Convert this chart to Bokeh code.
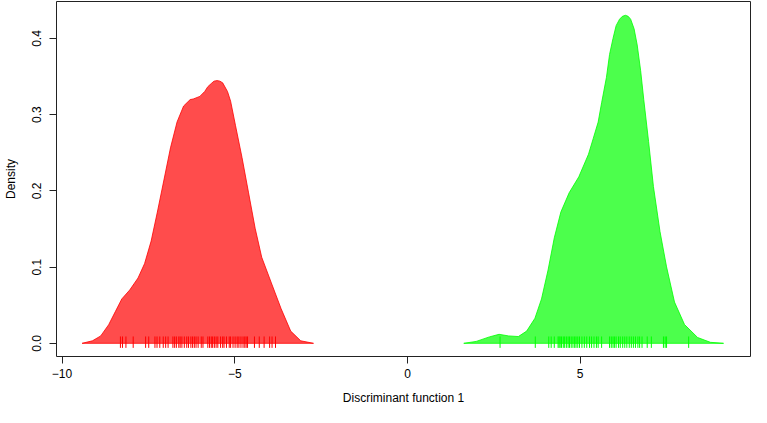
from bokeh.plotting import figure
from bokeh.models import Range1d, FixedTicker
from bokeh.embed import file_html
from bokeh.resources import INLINE

# ---- data ----
red_x = [-9.42, -9.12, -8.88, -8.65, -8.46, -8.27, -8.04, -7.80, -7.61, -7.42,
         -7.24, -7.05, -6.86, -6.67, -6.48, -6.29, -6.20, -6.01, -5.87, -5.78,
         -5.68, -5.60, -5.51, -5.43, -5.35, -5.21, -5.12, -4.98, -4.79, -4.60,
         -4.41, -4.22, -3.94, -3.66, -3.38, -3.09, -2.72]
red_y = [0.000, 0.0033, 0.0097, 0.0244, 0.0413, 0.0582, 0.0700, 0.0857, 0.1046, 0.1342,
         0.1722, 0.2143, 0.2565, 0.2904, 0.3114, 0.3198, 0.3206, 0.3240, 0.3304, 0.3367,
         0.3409, 0.3440, 0.3447, 0.3440, 0.3418, 0.3304, 0.3177, 0.2861, 0.2438, 0.1974,
         0.1510, 0.1130, 0.0792, 0.0456, 0.0160, 0.0033, 0.000]

green_x = [1.63, 1.99, 2.37, 2.65, 2.93, 3.21, 3.45, 3.69, 3.88, 4.07,
           4.25, 4.44, 4.68, 4.96, 5.24, 5.38, 5.52, 5.62, 5.76, 5.85,
           5.95, 6.04, 6.14, 6.22, 6.31, 6.39, 6.46, 6.56, 6.65, 6.75,
           6.84, 6.98, 7.12, 7.31, 7.50, 7.73, 8.02, 8.40, 8.77, 9.15]
green_y = [0.000, 0.0025, 0.0084, 0.0118, 0.0097, 0.0089, 0.0160, 0.0329, 0.0582, 0.0962,
           0.1384, 0.1722, 0.1975, 0.2185, 0.2481, 0.2691, 0.2903, 0.3156, 0.3490, 0.3790,
           0.4000, 0.4168, 0.4253, 0.4290, 0.4304, 0.4290, 0.4253, 0.4127, 0.3915, 0.3577,
           0.3198, 0.2648, 0.2057, 0.1467, 0.1003, 0.0541, 0.0246, 0.0076, 0.0013, 0.000]

red_rug = [-8.31, -8.25, -8.15, -7.94, -7.58, -7.49, -7.31, -7.25, -7.17, -7.07,
           -7.00, -6.93, -6.79, -6.74, -6.69, -6.62, -6.58, -6.53, -6.46, -6.39,
           -6.34, -6.27, -6.22, -6.17, -6.12, -6.06, -5.97, -5.92, -5.78, -5.73,
           -5.68, -5.64, -5.59, -5.54, -5.49, -5.41, -5.35, -5.31, -5.24, -5.16,
           -5.12, -5.05, -4.99, -4.93, -4.88, -4.82, -4.76, -4.71, -4.67, -4.63,
           -4.43, -4.29, -4.15, -3.99, -3.92, -3.82]
green_rug = [2.68, 3.70, 4.09, 4.16, 4.25, 4.36, 4.39, 4.42, 4.46, 4.51,
             4.55, 4.60, 4.65, 4.69, 4.74, 4.79, 4.84, 4.88, 4.93, 4.98,
             5.05, 5.12, 5.19, 5.27, 5.33, 5.40, 5.47, 5.52, 5.62, 5.85,
             5.90, 5.95, 5.99, 6.04, 6.11, 6.16, 6.23, 6.29, 6.35, 6.42,
             6.48, 6.54, 6.60, 6.67, 6.72, 6.79, 6.94, 7.06, 7.41, 7.46,
             7.50, 8.14]

x_ticks = [-10, -5, 0, 5]
y_ticks = [0.0, 0.1, 0.2, 0.3, 0.4]
y_tick_labels = ["0.0", "0.1", "0.2", "0.3", "0.4"]
x_label = "Discriminant function 1"
y_label = "Density"

FONT = "Liberation Sans"

p = figure(width=751, height=407, output_backend="svg", toolbar_location=None,
           x_range=Range1d(-10.16, 9.93), y_range=Range1d(-0.0173, 0.4485),
           min_border_left=47, min_border_right=1, min_border_top=1, min_border_bottom=40)
p.background_fill_color = "white"
p.border_fill_color = "white"
p.outline_line_color = "#222222"
p.outline_line_width = 1
p.grid.visible = False

p.patch(red_x, red_y, fill_color="red", fill_alpha=0.7, line_color="red", line_alpha=0.8, line_width=1)
p.patch(green_x, green_y, fill_color="#00ff00", fill_alpha=0.7, line_color="#00ff00", line_alpha=0.8, line_width=1)

p.segment(x0=red_rug, y0=[-0.006] * len(red_rug), x1=red_rug, y1=[0.009] * len(red_rug),
          line_color="red", line_width=1)
p.segment(x0=green_rug, y0=[-0.006] * len(green_rug), x1=green_rug, y1=[0.009] * len(green_rug),
          line_color="#00ff00", line_width=1)

for ax in (p.xaxis[0], p.yaxis[0]):
    ax.axis_line_color = None
    ax.minor_tick_line_color = None
    ax.major_tick_line_color = "#222222"
    ax.major_tick_in = 0
    ax.major_tick_out = 7
    ax.major_label_text_font = FONT
    ax.major_label_text_font_size = "12px"
    ax.major_label_text_color = "black"
    ax.axis_label_text_font = FONT
    ax.axis_label_text_font_size = "12px"
    ax.axis_label_text_font_style = "normal"
    ax.axis_label_text_color = "black"

p.xaxis[0].ticker = FixedTicker(ticks=x_ticks)
p.xaxis[0].major_label_standoff = 5
p.xaxis[0].axis_label = x_label
p.xaxis[0].axis_label_standoff = 10

p.yaxis[0].ticker = FixedTicker(ticks=y_ticks)
p.yaxis[0].major_label_overrides = {t: s for t, s in zip(y_ticks, y_tick_labels)}
p.yaxis[0].major_label_orientation = "vertical"
p.yaxis[0].major_label_standoff = 8
p.yaxis[0].axis_label = y_label
p.yaxis[0].axis_label_standoff = 12

open("out.html", "w").write(file_html(p, INLINE))
